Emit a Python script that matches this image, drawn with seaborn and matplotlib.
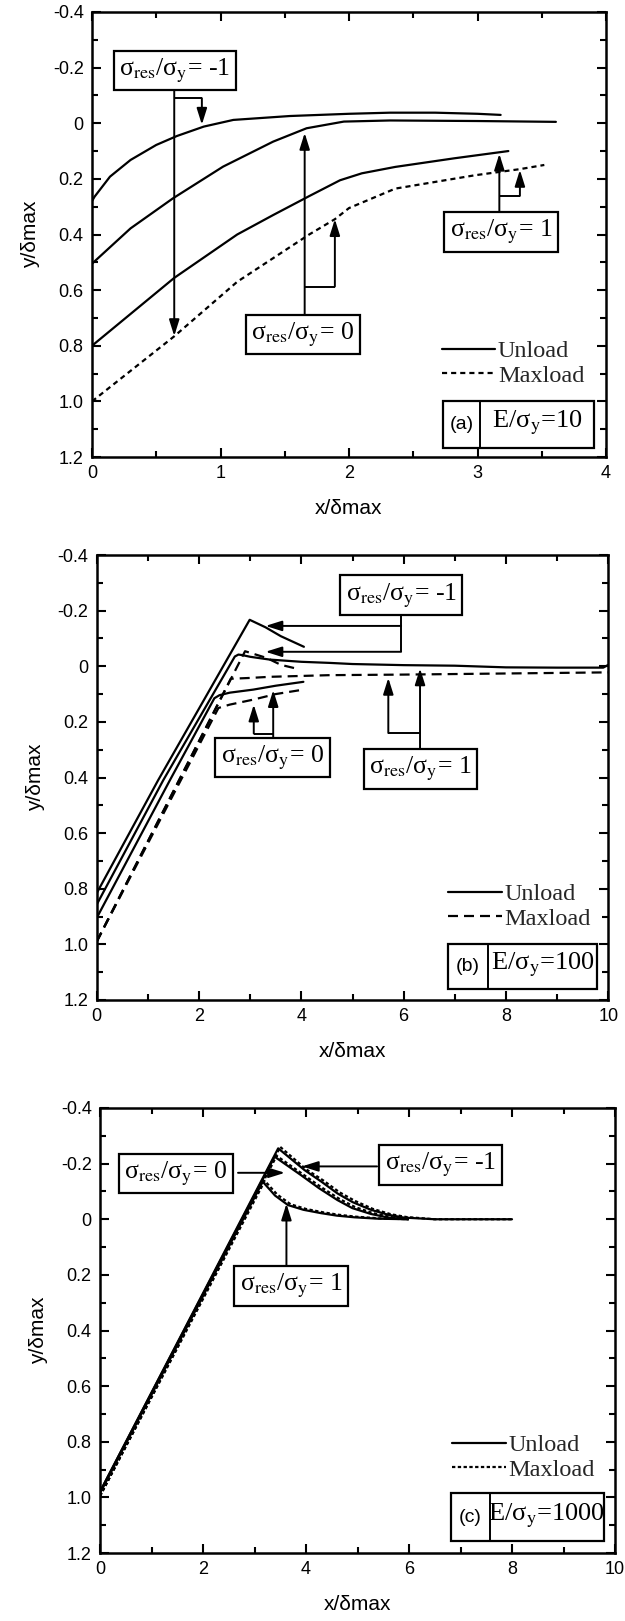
import numpy as np
import pandas as pd
import matplotlib
matplotlib.use("Agg")
import matplotlib.pyplot as plt
from matplotlib.patches import Rectangle
from matplotlib.ticker import AutoMinorLocator
import seaborn as sns

sns.set_theme(style="ticks")
plt.rcParams['font.family'] = ['Liberation Sans', 'DejaVu Sans']
plt.rcParams['mathtext.fontset'] = 'stix'

SERIF = ['Liberation Serif', 'DejaVu Serif']

# ---------------- data : panel (a) E/sy = 10 ----------------
a_unl_m1_x = [0, 0.02, 0.14, 0.30, 0.50, 0.66, 0.87, 1.10, 1.54, 2.0, 2.32, 2.67, 3.0, 3.18]
a_unl_m1_y = [0.28, 0.264, 0.192, 0.132, 0.078, 0.046, 0.012, -0.012, -0.026, -0.034, -0.038, -0.038, -0.034, -0.03]
a_unl_0_x = [0, 0.30, 0.63, 1.02, 1.41, 1.67, 1.96, 2.32, 3.0, 3.61]
a_unl_0_y = [0.505, 0.378, 0.27, 0.156, 0.066, 0.018, -0.006, -0.01, -0.008, -0.005]
a_unl_p1_x = [0, 0.64, 1.13, 1.41, 1.69, 1.93, 2.1, 2.36, 2.82, 3.24]
a_unl_p1_y = [0.80, 0.556, 0.40, 0.33, 0.262, 0.205, 0.18, 0.157, 0.126, 0.10]
a_max_x = [0, 0.64, 1.13, 1.69, 1.89, 2.0, 2.36, 2.98, 3.33, 3.52]
a_max_y = [1.0, 0.766, 0.57, 0.40, 0.345, 0.305, 0.235, 0.187, 0.165, 0.15]

# ---------------- data : panel (b) E/sy = 100 ----------------
b_unl_m1_x = [0, 1.2, 2.99, 3.3, 3.6, 4.05]
b_unl_m1_y = [0.816, 0.41, -0.167, -0.14, -0.108, -0.07]
b_unl_p1_x = [0, 1.3, 2.7, 2.77, 2.85, 3.0, 3.38, 4.0, 4.56, 5.0, 6.0, 7.0, 8.0, 9.0, 9.9, 10.0]
b_unl_p1_y = [0.857, 0.41, -0.035, -0.042, -0.040, -0.034, -0.024, -0.016, -0.012, -0.008, -0.004, -0.002, 0.004, 0.005, 0.005, -0.005]
b_unl_0_x = [0, 1.43, 2.3, 2.4, 2.6, 3.06, 3.5, 4.04]
b_unl_0_y = [0.905, 0.41, 0.115, 0.104, 0.095, 0.084, 0.07, 0.056]
b_max_m1_x = [0, 2.9, 3.32, 3.6, 3.94]
b_max_m1_y = [0.99, -0.054, -0.03, -0.005, 0.01]
b_max_p1_x = [0, 2.62, 3.0, 3.38, 4.56, 6.0, 8.0, 10.0]
b_max_p1_y = [0.99, 0.045, 0.042, 0.038, 0.032, 0.03, 0.026, 0.022]
b_max_0_x = [0, 2.38, 2.6, 3.06, 3.5, 4.04]
b_max_0_y = [0.99, 0.15, 0.138, 0.12, 0.10, 0.084]

# ---------------- data : panel (c) E/sy = 1000 ----------------
c_unl_m1_x = [0, 3.46, 3.97, 4.3, 4.61, 4.9, 5.26, 5.6, 5.9, 6.5, 8.0]
c_unl_m1_y = [0.98, -0.255, -0.177, -0.135, -0.093, -0.062, -0.034, -0.016, -0.006, 0.0, 0.0]
c_unl_0_x = [0, 3.39, 3.9, 4.25, 4.61, 4.9, 5.26, 5.6, 5.97]
c_unl_0_y = [0.98, -0.225, -0.159, -0.112, -0.069, -0.04, -0.019, -0.006, 0.0]
c_unl_p1_x = [0, 3.16, 3.4, 3.65, 3.95, 4.29, 4.6, 4.94, 5.4, 5.97]
c_unl_p1_y = [0.985, -0.135, -0.085, -0.051, -0.034, -0.022, -0.013, -0.007, -0.002, 0.0]
c_max_m1_x = [0, 3.5, 4.0, 4.34, 4.65, 4.95, 5.3, 5.65, 5.95, 6.5, 8.0]
c_max_m1_y = [0.995, -0.26, -0.18, -0.139, -0.097, -0.066, -0.037, -0.018, -0.008, 0.0, 0.0]
c_max_0_x = [0, 3.43, 3.93, 4.29, 4.65, 4.95, 5.3, 5.65, 6.0]
c_max_0_y = [0.995, -0.228, -0.163, -0.116, -0.073, -0.044, -0.022, -0.008, 0.0]
c_max_p1_x = [0, 3.2, 3.44, 3.7, 4.0, 4.33, 4.64, 4.98, 5.45, 6.0]
c_max_p1_y = [0.995, -0.138, -0.089, -0.054, -0.037, -0.025, -0.016, -0.009, -0.003, 0.0]

y_ticks = [-0.4, -0.2, 0, 0.2, 0.4, 0.6, 0.8, 1.0, 1.2]
y_tick_labels = ["-0.4", "-0.2", "0", "0.2", "0.4", "0.6", "0.8", "1.0", "1.2"]
a_x_ticks = [0, 1, 2, 3, 4]
bc_x_ticks = [0, 2, 4, 6, 8, 10]
legend_labels = ["Unload", "Maxload"]
panel_tags = ["(a)", "(b)", "(c)"]
panel_ratio = [r"E/σ$_\mathrm{y}$=10", r"E/σ$_\mathrm{y}$=100", r"E/σ$_\mathrm{y}$=1000"]
lbl_m1 = r"σ$_\mathrm{res}$/σ$_\mathrm{y}$= -1"
lbl_0 = r"σ$_\mathrm{res}$/σ$_\mathrm{y}$= 0"
lbl_p1 = r"σ$_\mathrm{res}$/σ$_\mathrm{y}$= 1"

# ---------------- figure ----------------
fig = plt.figure(figsize=(6.25, 16.21), dpi=100)
W, H = 625.0, 1621.0
def add_ax(l, r, t, b):
    return fig.add_axes([l / W, 1 - b / H, (r - l) / W, (b - t) / H])

ax_a = add_ax(92, 606, 12, 457)
ax_b = add_ax(96.7, 608.3, 555, 1000)
ax_c = add_ax(100, 615, 1108, 1553)

LW = 1.6

def draw(ax, xs, ys, kind, dash=None, label=None):
    df = pd.DataFrame({"x": xs, "y": ys})
    sns.lineplot(data=df, x="x", y="y", ax=ax, color="black", lw=LW,
                 estimator=None, label=label, legend=False)
    ln = ax.lines[-1]
    if kind == "max":
        ln.set_dashes(dash)
    return ln

def style_axes(ax, xmax, xticks):
    ax.set_xlim(0, xmax)
    ax.set_ylim(1.2, -0.4)
    ax.set_xticks(xticks)
    ax.set_xticklabels([str(t) for t in xticks])
    ax.set_yticks(y_ticks)
    ax.set_yticklabels(y_tick_labels)
    ax.xaxis.set_minor_locator(AutoMinorLocator(2))
    ax.yaxis.set_minor_locator(AutoMinorLocator(2))
    ax.tick_params(which="both", direction="in", top=True, right=True,
                   colors="black", labelsize=13, width=1.5)
    ax.tick_params(which="major", length=6.5, pad=6)
    ax.tick_params(which="minor", length=4)
    for s in ax.spines.values():
        s.set_linewidth(1.8)
        s.set_color("black")
    ax.set_xlabel("x/\u03b4max", fontsize=15, labelpad=12, color="black")
    ax.set_ylabel("y/\u03b4max", fontsize=15, labelpad=9, color="black")
    ax.set_facecolor("white")

def box(ax, x, y, text):
    ax.text(x, y, text, ha="center", va="center", fontsize=18.5, family=SERIF,
            color="black", zorder=6,
            bbox=dict(boxstyle="square,pad=0.22", fc="white", ec="black", lw=1.6))

def arrow(ax, tail, head):
    ax.annotate("", xy=head, xytext=tail, zorder=5,
                arrowprops=dict(arrowstyle="-|>,head_length=0.7,head_width=0.22",
                                lw=1.4, color="black", shrinkA=0, shrinkB=0,
                                mutation_scale=14))

def seg(ax, xs, ys):
    ax.plot(xs, ys, color="black", lw=1.4, zorder=5, solid_capstyle="butt")

def legend(ax, x, y):
    h = [ax.lines[0], None]
    for ln in ax.lines:
        if ln.get_label() == "Maxload":
            h[1] = ln
    ax.legend(h, legend_labels, loc="center left", bbox_to_anchor=(x, y),
              bbox_transform=ax.transData, frameon=False, borderpad=0,
              borderaxespad=0, handlelength=2.2, handletextpad=0.12,
              labelspacing=0.1, prop={"family": SERIF, "size": 17.5})

def tag_box(ax, x0, xd, x1, y0, y1, tag, ratio):
    ax.add_patch(Rectangle((x0, y0), x1 - x0, y1 - y0, fc="white", ec="black",
                           lw=1.6, zorder=6))
    seg(ax, [xd, xd], [y0, y1])
    ax.lines[-1].set_zorder(7)
    ax.text((x0 + xd) / 2, (y0 + y1) / 2, tag, ha="center", va="center",
            fontsize=14, zorder=8, color="black")
    ax.text((xd + x1) / 2, (y0 + y1) / 2 - 0.005, ratio, ha="center", va="center",
            fontsize=19, family=SERIF, zorder=8, color="black")

# ---------------- panel (a) ----------------
ax = ax_a
DA = (2.3, 1.8)
draw(ax, a_unl_m1_x, a_unl_m1_y, "unl", label="Unload")
draw(ax, a_unl_0_x, a_unl_0_y, "unl")
draw(ax, a_unl_p1_x, a_unl_p1_y, "unl")
draw(ax, a_max_x, a_max_y, "max", DA, label="Maxload")
style_axes(ax, 4, a_x_ticks)
box(ax, 0.645, -0.19, lbl_m1)
arrow(ax, (0.64, -0.13), (0.64, 0.765))
seg(ax, [0.64, 0.855], [-0.09, -0.09])
arrow(ax, (0.855, -0.09), (0.855, 0.005))
box(ax, 1.64, 0.76, lbl_0)
arrow(ax, (1.655, 0.70), (1.655, 0.035))
seg(ax, [1.655, 1.89], [0.587, 0.587])
arrow(ax, (1.89, 0.587), (1.89, 0.345))
box(ax, 3.185, 0.392, lbl_p1)
arrow(ax, (3.17, 0.332), (3.17, 0.11))
seg(ax, [3.17, 3.33], [0.261, 0.261])
arrow(ax, (3.33, 0.261), (3.33, 0.168))
legend(ax, 2.72, 0.864)
tag_box(ax, 2.73, 3.02, 3.91, 0.997, 1.166, panel_tags[0], panel_ratio[0])

# ---------------- panel (b) ----------------
ax = ax_b
DB = (4.5, 2.7)
draw(ax, b_unl_m1_x, b_unl_m1_y, "unl", label="Unload")
draw(ax, b_unl_p1_x, b_unl_p1_y, "unl")
draw(ax, b_unl_0_x, b_unl_0_y, "unl")
draw(ax, b_max_m1_x, b_max_m1_y, "max", DB, label="Maxload")
draw(ax, b_max_p1_x, b_max_p1_y, "max", DB)
draw(ax, b_max_0_x, b_max_0_y, "max", DB)
style_axes(ax, 10, bc_x_ticks)
box(ax, 5.95, -0.255, lbl_m1)
seg(ax, [5.95, 5.95], [-0.19, -0.052])
arrow(ax, (5.95, -0.145), (3.3, -0.145))
arrow(ax, (5.95, -0.052), (3.3, -0.052))
box(ax, 3.435, 0.328, lbl_0)
arrow(ax, (3.45, 0.266), (3.45, 0.086))
seg(ax, [3.45, 3.07], [0.242, 0.242])
arrow(ax, (3.07, 0.242), (3.07, 0.138))
box(ax, 6.33, 0.37, lbl_p1)
arrow(ax, (6.32, 0.31), (6.32, 0.008))
seg(ax, [6.32, 5.70], [0.24, 0.24])
arrow(ax, (5.70, 0.24), (5.70, 0.042))
legend(ax, 6.87, 0.863)
tag_box(ax, 6.87, 7.65, 9.78, 0.998, 1.16, panel_tags[1], panel_ratio[1])

# ---------------- panel (c) ----------------
ax = ax_c
DC = (1.5, 1.1)
draw(ax, c_unl_m1_x, c_unl_m1_y, "unl", label="Unload")
draw(ax, c_unl_0_x, c_unl_0_y, "unl")
draw(ax, c_unl_p1_x, c_unl_p1_y, "unl")
draw(ax, c_max_m1_x, c_max_m1_y, "max", DC, label="Maxload")
draw(ax, c_max_0_x, c_max_0_y, "max", DC)
draw(ax, c_max_p1_x, c_max_p1_y, "max", DC)
style_axes(ax, 10, bc_x_ticks)
box(ax, 1.47, -0.165, lbl_0)
arrow(ax, (2.68, -0.167), (3.59, -0.167))
box(ax, 6.61, -0.195, lbl_m1)
arrow(ax, (5.38, -0.19), (3.92, -0.19))
box(ax, 3.715, 0.241, lbl_p1)
arrow(ax, (3.62, 0.176), (3.62, -0.056))
legend(ax, 6.84, 0.857)
tag_box(ax, 6.82, 7.57, 9.78, 0.985, 1.157, panel_tags[2], panel_ratio[2])

fig.savefig("out.png", dpi=100, facecolor="white")
